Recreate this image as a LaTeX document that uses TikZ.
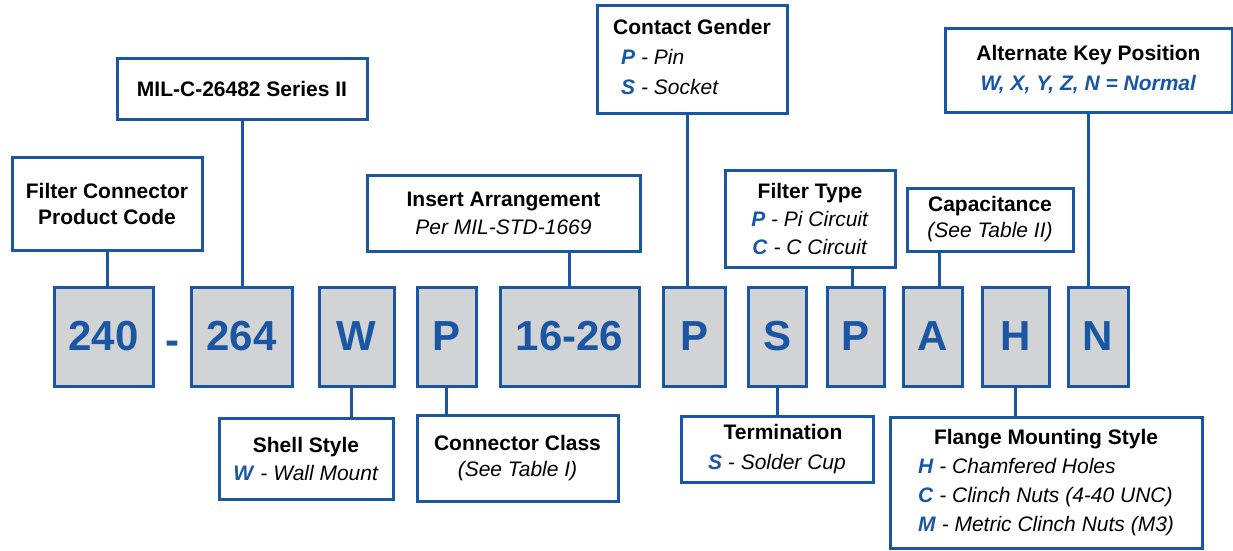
\documentclass[tikz,border=0pt]{standalone}
\usepackage{fontspec}
\setmainfont{Liberation Sans}
\usetikzlibrary{positioning}
\definecolor{partblue}{RGB}{26,86,164}
\definecolor{partgray}{RGB}{209,211,212}
\newcommand{\kc}[1]{\textcolor{partblue}{\textbf{\textit{#1}}}}
\newcommand{\ds}[1]{\textit{#1}}
\tikzset{
  lbl/.style={draw=partblue, line width=3pt, fill=white, align=center, inner sep=0pt,
    font=\fontsize{21}{28}\selectfont},
  codebox/.style={draw=partblue, line width=3pt, fill=partgray, minimum height=99pt,
    inner sep=0pt, text=partblue, font=\fontsize{42}{50}\selectfont\bfseries},
  link/.style={draw=partblue, line width=3pt},
}

\begin{document}
\begin{tikzpicture}[x=1pt,y=-1pt]
\useasboundingbox (0,0) rectangle (1233,550);
            % part number
            \node[codebox, minimum width=99pt] (c240) at (103.5,336.5) {240};
            \node[text=partblue, font=\fontsize{42}{50}\selectfont\bfseries] (dash) at (172,348) {-};
            \node[codebox, minimum width=101pt] (c264) at (241.5,336.5) {264};
            \node[codebox, minimum width=75pt] (cW) at (356.5,336.5) {W};
            \node[codebox, minimum width=59pt] (cP1) at (446.5,336.5) {P};
            \node[codebox, minimum width=139pt] (c1626) at (569.5,336.5) {16-26};
            \node[codebox, minimum width=62pt] (cP2) at (694,336.5) {P};
            \node[codebox, minimum width=58pt] (cS) at (777,336.5) {S};
            \node[codebox, minimum width=57pt] (cP3) at (855.5,336.5) {P};
            \node[codebox, minimum width=59pt] (cA) at (932.5,336.5) {A};
            \node[codebox, minimum width=67pt] (cH) at (1015.5,336.5) {H};
            \node[codebox, minimum width=60pt] (cN) at (1098,336.5) {N};
            % labels above
            \node[lbl, minimum width=190pt, minimum height=93pt, font=\fontsize{21}{26}\selectfont\bfseries]
                (prod) at (107,203.5) {Filter Connector\\Product Code};
            \node[lbl, minimum width=250pt, minimum height=61pt] (mil) at (242,88.5) {\textbf{MIL-C-26482 Series II}};
            \node[lbl, minimum width=273pt, minimum height=76pt] (insert) at (503.5,213)
                {\textbf{Insert Arrangement}\\\ds{Per MIL-STD-1669}};
            \node[lbl, minimum width=190pt, minimum height=108pt] (gender) at (692,59)
                {\begin{tabular}{@{}l@{}}\multicolumn{1}{@{}c@{}}{\textbf{Contact Gender}}\\[2pt]
                 \hspace*{8pt}\kc{P}\ds{ - Pin}\\[2pt] \hspace*{8pt}\kc{S}\ds{ - Socket}\end{tabular}};
            \node[lbl, minimum width=170pt, minimum height=97pt] (ftype) at (810,218.5)
                {\textbf{Filter Type}\\\kc{P}\ds{ - Pi Circuit}\\\kc{C}\ds{ - C Circuit}};
            \node[lbl, minimum width=166pt, minimum height=63pt, font=\fontsize{21}{26}\selectfont] (cap) at (990,219.5)
                {\textbf{Capacitance}\\\ds{(See Table II)}};
            \node[lbl, minimum width=287pt, minimum height=84pt] (altkey) at (1088.5,70)
                {\textbf{Alternate Key Position}\\[2pt]\kc{W, X, Y, Z, N = Normal}};
            % labels below
            \node[lbl, minimum width=174pt, minimum height=81pt] (shell) at (306,458.5)
                {\textbf{Shell Style}\\\kc{W}\ds{ - Wall Mount}};
            \node[lbl, minimum width=201pt, minimum height=86pt, font=\fontsize{21}{26}\selectfont] (cclass) at (517.5,458)
                {\textbf{Connector Class}\\\ds{(See Table I)}};
            \node[lbl, minimum width=192pt, minimum height=66pt] (term) at (777,449)
                {\begin{tabular}{@{}l@{}}\multicolumn{1}{@{}c@{}}{\hspace*{12pt}\textbf{Termination}}\\[2pt]
                 \kc{S}\ds{ - Solder Cup}\end{tabular}};
            \node[lbl, minimum width=312pt, minimum height=131pt] (flange) at (1046,482.5)
                {\begin{tabular}{@{}l@{}}\multicolumn{1}{@{}c@{}}{\textbf{Flange Mounting Style}}\\[1pt]
                 \kc{H}\ds{ - Chamfered Holes}\\[1pt] \kc{C}\ds{ - Clinch Nuts (4-40 UNC)}\\[1pt]
                 \kc{M}\ds{ - Metric Clinch Nuts (M3)}\end{tabular}};
            % leaders
            \draw[link] (prod.south) -- (prod.south |- c240.north);
            \draw[link] (mil.south) -- (mil.south |- c264.north);
            \draw[link] (c1626.north) -- (c1626.north |- insert.south);
            \draw[link] ([xshift=-7pt]cP2.north) -- ([xshift=-7pt]cP2.north |- gender.south);
            \draw[link] ([xshift=-3pt]cP3.north) -- ([xshift=-3pt]cP3.north |- ftype.south);
            \draw[link] ([xshift=6.5pt]cA.north) -- ([xshift=6.5pt]cA.north |- cap.south);
            \draw[link] (altkey.south) -- (altkey.south |- cN.north);
            \draw[link] ([xshift=-5pt]cW.south) -- ([xshift=-5pt]cW.south |- shell.north);
            \draw[link] (cP1.south) -- (cP1.south |- cclass.north);
            \draw[link] (cS.south) -- (cS.south |- term.north);
            \draw[link] (cH.south) -- (cH.south |- flange.north);
\end{tikzpicture}
\end{document}
